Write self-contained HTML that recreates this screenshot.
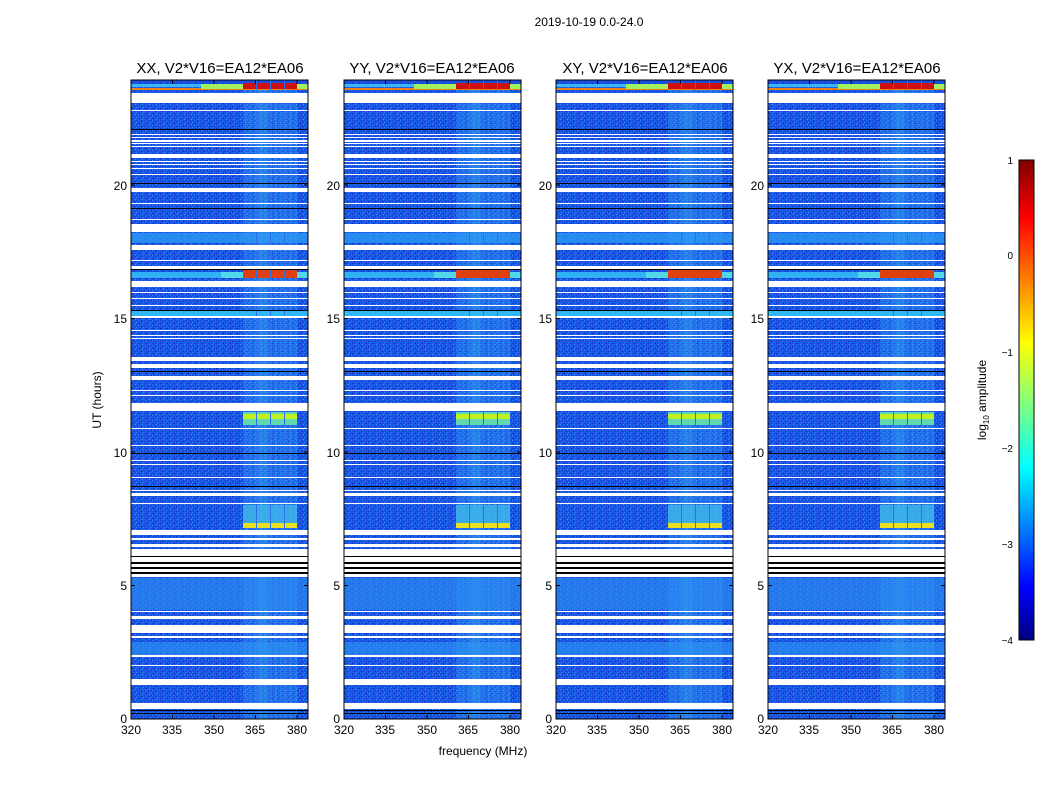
<!DOCTYPE html>
<html><head><meta charset="utf-8"><style>
body{margin:0;background:#fff;width:1050px;height:800px;overflow:hidden}
svg{font-family:"Liberation Sans",sans-serif}
</style></head><body>
<svg width="1050" height="800" viewBox="0 0 1050 800" xmlns="http://www.w3.org/2000/svg">
<defs>
<pattern id="nz" width="7" height="5" patternUnits="userSpaceOnUse">
<rect width="7" height="5" fill="#1b55e4"/>
<rect x="0" y="0" width="1" height="1" fill="#2f86f5"/>
<rect x="3" y="1" width="1" height="1" fill="#0c2fc9"/>
<rect x="5" y="2" width="1" height="1" fill="#2f86f5"/>
<rect x="1" y="3" width="1" height="1" fill="#0a22b8"/>
<rect x="4" y="4" width="1" height="1" fill="#3a9af8"/>
<rect x="6" y="0" width="1" height="1" fill="#1038d0"/>
<rect x="2" y="2" width="1" height="1" fill="#1a6af0"/>
</pattern>
<pattern id="nb" width="5" height="4" patternUnits="userSpaceOnUse">
<rect width="5" height="4" fill="#2c8cf4"/>
<rect x="0" y="0" width="1" height="1" fill="#3fd0f8"/>
<rect x="2" y="1" width="1" height="1" fill="#1c60e6"/>
<rect x="4" y="2" width="1" height="1" fill="#46e0f0"/>
<rect x="1" y="3" width="1" height="1" fill="#1a50e0"/>
</pattern>
<linearGradient id="jet" x1="0" y1="1" x2="0" y2="0">
<stop offset="0" stop-color="#00007f"/><stop offset="0.11" stop-color="#0000ff"/>
<stop offset="0.36" stop-color="#00ffff"/><stop offset="0.62" stop-color="#ffff00"/>
<stop offset="0.88" stop-color="#ff0000"/><stop offset="1" stop-color="#7f0000"/>
</linearGradient>
<g id="panel">
<rect x="0" y="0" width="177" height="639" fill="url(#nz)"/>
<rect x="112" y="0" width="54" height="639" fill="url(#nb)" opacity="0.45"/>
<rect x="126" y="0" width="11" height="639" fill="#40c8f0" opacity="0.2"/>
<!-- top colored -->
<rect x="0" y="0" width="177" height="3" fill="#1a50e0"/>
<rect x="0" y="4" width="177" height="3" fill="#3ab8f5"/>
<rect x="0" y="8" width="177" height="2" fill="#f08010"/>
<rect x="70" y="4" width="107" height="5" fill="#a0f060"/>
<rect x="112" y="3" width="54" height="6" fill="#d01010"/>
<!-- cyan bands -->
<rect x="0" y="153" width="177" height="10" fill="#2c98f3" opacity="0.8"/>
<rect x="0" y="192" width="177" height="6" fill="#30b0f5"/>
<rect x="90" y="192" width="86" height="6" fill="#50d8e8"/>
<rect x="112" y="189" width="54" height="9" fill="#e04010"/>
<rect x="0" y="231" width="177" height="5" fill="#30b8f5"/>
<rect x="112" y="332" width="54" height="13" fill="#60d8b0"/>
<rect x="112" y="334" width="54" height="5" fill="#c0f020"/>
<rect x="112" y="425" width="54" height="23" fill="#40b8e8" opacity="0.8"/>
<rect x="112" y="443" width="54" height="5" fill="#e8e020"/>
<g fill="#2a70ea"><rect x="125" y="0" width="1" height="639"/><rect x="139" y="0" width="1" height="639"/><rect x="153" y="0" width="1" height="639"/></g>
<rect x="0" y="498" width="177" height="32" fill="#2e90f3" opacity="0.6"/>
<rect x="0" y="562" width="177" height="15" fill="#2e98f3" opacity="0.6"/>
<!-- white stripes -->
<g fill="#fff">
<rect x="0" y="13" width="177" height="10"/>
<rect x="0" y="30" width="177" height="1"/>
<rect x="0" y="54" width="177" height="1"/><rect x="0" y="57" width="177" height="1"/>
<rect x="0" y="60" width="177" height="2"/><rect x="0" y="63" width="177" height="1"/><rect x="0" y="66" width="177" height="1"/>
<rect x="0" y="74" width="177" height="4"/><rect x="0" y="81" width="177" height="1"/><rect x="0" y="84" width="177" height="1"/>
<rect x="0" y="88" width="177" height="1"/><rect x="0" y="94" width="177" height="1"/>
<rect x="0" y="108" width="177" height="4"/>
<rect x="0" y="123" width="177" height="1"/>
<rect x="0" y="139" width="177" height="1"/>
<rect x="0" y="144" width="177" height="8"/>
<rect x="0" y="165" width="177" height="5"/>
<rect x="0" y="180" width="177" height="1"/><rect x="0" y="186" width="177" height="3"/>
<rect x="0" y="201" width="177" height="6"/>
<rect x="0" y="212" width="177" height="1"/><rect x="0" y="218" width="177" height="1"/><rect x="0" y="225" width="177" height="1"/>
<rect x="0" y="236" width="177" height="2"/>
<rect x="0" y="250" width="177" height="1"/><rect x="0" y="255" width="177" height="1"/><rect x="0" y="258" width="177" height="1"/>
<rect x="0" y="277" width="177" height="4"/><rect x="0" y="284" width="177" height="4"/><rect x="0" y="296" width="177" height="4"/>
<rect x="0" y="310" width="177" height="1"/><rect x="0" y="315" width="177" height="1"/>
<rect x="0" y="323" width="177" height="8"/>
<rect x="0" y="348" width="177" height="1"/>
<rect x="0" y="365" width="177" height="1"/><rect x="0" y="380" width="177" height="1"/><rect x="0" y="384" width="177" height="1"/>
<rect x="0" y="397" width="177" height="1"/><rect x="0" y="410" width="177" height="1"/><rect x="0" y="413" width="177" height="3"/>
<rect x="0" y="423" width="177" height="1"/>
<rect x="0" y="450" width="177" height="5"/><rect x="0" y="458" width="177" height="2"/><rect x="0" y="464" width="177" height="3"/>
<rect x="0" y="469" width="177" height="28"/>
<rect x="0" y="531" width="177" height="1"/><rect x="0" y="536" width="177" height="3"/>
<rect x="0" y="545" width="177" height="8"/>
<rect x="0" y="556" width="177" height="2"/>
<rect x="0" y="575" width="177" height="2"/>
<rect x="0" y="585" width="177" height="1"/>
<rect x="0" y="599" width="177" height="6"/>
<rect x="0" y="623" width="177" height="6"/>
</g>
<!-- black lines -->
<g fill="#000">
<rect x="0" y="49" width="177" height="1"/><rect x="0" y="103" width="177" height="1"/><rect x="0" y="128" width="177" height="1"/>
<rect x="0" y="189" width="177" height="1"/><rect x="0" y="230" width="177" height="1"/><rect x="0" y="291" width="177" height="1"/>
<rect x="0" y="373" width="177" height="1"/><rect x="0" y="406" width="177" height="1"/>
<rect x="0" y="476" width="177" height="1"/><rect x="0" y="482" width="177" height="2"/><rect x="0" y="487" width="177" height="2"/><rect x="0" y="492" width="177" height="2"/>
<rect x="0" y="630" width="177" height="1"/><rect x="0" y="633" width="177" height="1"/>
</g>
<g stroke="#000" stroke-width="1">
<path d="M0 639v-4M41.5 639v-4M83 639v-4M124.5 639v-4M166 639v-4M41.5 0v4M83 0v4M124.5 0v4M166 0v4"/>
<path d="M0 505.5h4M0 372h4M0 238.5h4M0 105h4M177 505.5h-4M177 372h-4M177 238.5h-4M177 105h-4"/>
</g>
<rect x="0" y="0" width="177" height="639" fill="none" stroke="#000" stroke-width="1"/>
</g>
</defs>
<text x="589" y="26" font-size="12" text-anchor="middle">2019-10-19 0.0-24.0</text>

<g font-size="15" text-anchor="middle">
<text x="220" y="73">XX, V2*V16=EA12*EA06</text>
<text x="432" y="73">YY, V2*V16=EA12*EA06</text>
<text x="645" y="73">XY, V2*V16=EA12*EA06</text>
<text x="857" y="73">YX, V2*V16=EA12*EA06</text>
</g>

<use href="#panel" x="131" y="80"/>
<use href="#panel" x="344" y="80"/>
<use href="#panel" x="556" y="80"/>
<use href="#panel" x="768" y="80"/>

<g font-size="12" text-anchor="middle">
<g id="xt">
<text x="131" y="734">320</text><text x="172" y="734">335</text><text x="214" y="734">350</text><text x="255" y="734">365</text><text x="297" y="734">380</text>
</g>
<use href="#xt" x="213"/><use href="#xt" x="425"/><use href="#xt" x="637"/>
</g>
<g font-size="12" text-anchor="end">
<g id="yt">
<text x="127" y="723">0</text><text x="127" y="590">5</text><text x="127" y="457">10</text><text x="127" y="323">15</text><text x="127" y="190">20</text>
</g>
<use href="#yt" x="213"/><use href="#yt" x="425"/><use href="#yt" x="637"/>
</g>
<text x="483" y="755" font-size="12" text-anchor="middle">frequency (MHz)</text>
<text transform="translate(101,400) rotate(-90)" font-size="12" text-anchor="middle">UT (hours)</text>

<rect x="1019" y="160" width="15" height="480" fill="url(#jet)" stroke="#000" stroke-width="1"/>
<g font-size="10" text-anchor="end">
<text x="1013" y="164">1</text><text x="1013" y="259">0</text><text x="1013" y="356">−1</text>
<text x="1013" y="452">−2</text><text x="1013" y="548">−3</text><text x="1013" y="644">−4</text>
</g>
<text transform="translate(986,400) rotate(-90)" font-size="12" text-anchor="middle">log<tspan font-size="8" dy="3">10</tspan><tspan dy="-3"> amplitude</tspan></text>
</svg>
</body></html>
